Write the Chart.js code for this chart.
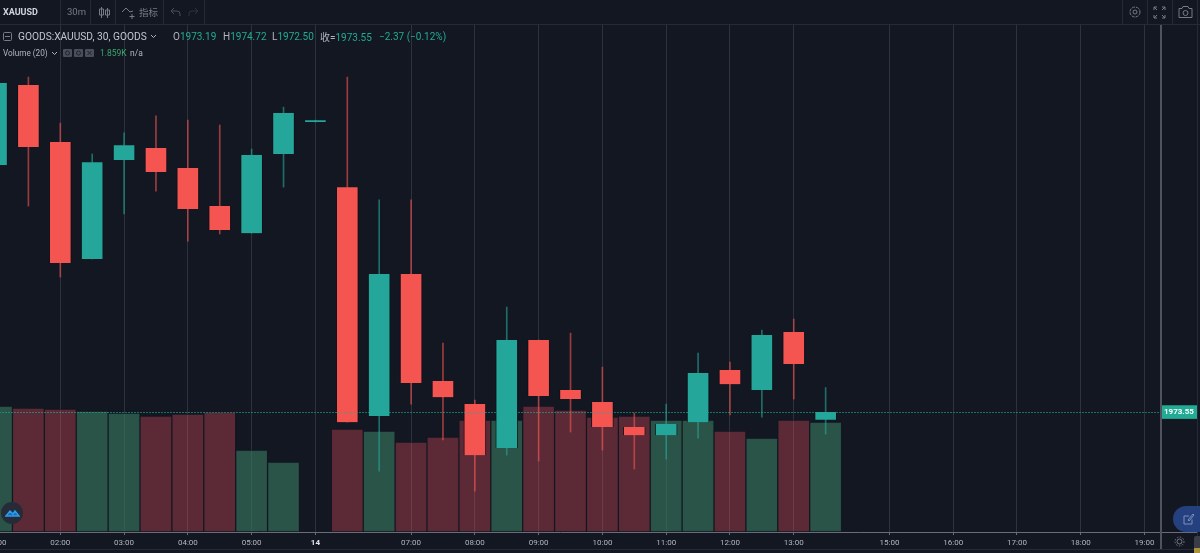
<!DOCTYPE html>
<html>
<head>
<meta charset="utf-8">
<title>XAUUSD</title>
<script src="https://cdn.jsdelivr.net/npm/chart.js@4"></script>
<style>
	html, body { margin: 0; padding: 0; width: 1200px; height: 553px; overflow: hidden; background: #131722; }
	body { position: relative; font-family: Roboto, sans-serif; color: #b2b5be; }
	#chart { position: absolute; left: -40px; top: 0; }
	.t { position: absolute; white-space: nowrap; font-size: 9.5px; line-height: 12px; }
	.up { color: #22ab94; }
	.line { position: absolute; background: #262a36; }
	svg { position: absolute; fill: none; stroke: #787b86; stroke-width: 1; }
</style>
</head>
<body>
<canvas id="chart" width="1240" height="553"></canvas>

<!-- верхняя панель -->
<div class="line" style="left:0;top:24px;width:1200px;height:1px"></div>
<div class="line" style="left:60px;top:0;width:1px;height:24px"></div>
<div class="line" style="left:90px;top:0;width:1px;height:24px"></div>
<div class="line" style="left:115px;top:0;width:1px;height:24px"></div>
<div class="line" style="left:163px;top:0;width:1px;height:24px"></div>
<div class="line" style="left:204px;top:0;width:1px;height:24px"></div>
<div class="line" style="left:1122px;top:0;width:1px;height:24px"></div>
<div class="line" style="left:1147px;top:0;width:1px;height:24px"></div>
<div class="line" style="left:1172px;top:0;width:1px;height:24px"></div>
<div class="line" style="left:1197px;top:0;width:1px;height:553px"></div>
<div class="line" style="left:0;top:549px;width:1197px;height:1px"></div>
<div class="line" style="left:1160px;top:532px;width:37px;height:1px;background:#6a6d78"></div>
<div class="line" style="left:1160px;top:25px;width:2px;height:524px;background:#50535e"></div>

<div class="t" style="left:3px;top:6px;font-weight:700;font-size:9px;color:#d1d4dc">XAUUSD</div>
<div class="t" style="left:67px;top:6px;color:#787b86">30m</div>
<svg style="left:98px;top:6px" width="13" height="13"><path d="M3.5 1v11M3.5 3h-2v6h2M3.5 3h2v6h-2M9.5 2v10M9.5 4h-2v5h2M9.5 4h2v5h-2"/></svg>
<svg style="left:121px;top:6px" width="16" height="13"><path d="M1 6l4-4 4 4 3-1M11 8v5M8.5 10.500h5"/></svg>
<div class="t" style="left:139px;top:6px;color:#787b86;font-family:'Noto Sans CJK SC'">指标</div>
<svg style="left:170px;top:7px;stroke:#4a4e5a" width="11" height="10"><path d="M4 1L1 4l3 3M1 4h6q3 0 3 3v2"/></svg>
<svg style="left:188px;top:7px;stroke:#2f333f" width="11" height="10"><path d="M7 1l3 3-3 3M10 4H4q-3 0-3 3v2"/></svg>
<svg style="left:1128px;top:5px" width="14" height="14"><circle cx="7" cy="7" r="2"/><circle cx="7" cy="7" r="5" stroke-dasharray="3 1"/></svg>
<svg style="left:1153px;top:6px" width="13" height="13"><path d="M1 4V1h3M9 1h3v3M1 9v3h3M12 9v3H9M1 1l3 3M12 1L9 4M1 12l3-3M12 12L9 9"/></svg>
<svg style="left:1178px;top:5px" width="15" height="14"><path d="M1 3.500h3l1-2h5l1 2h3v9H1z"/><circle cx="7.500" cy="8" r="2.500"/></svg>

<!-- легенда -->
<svg style="left:3px;top:32px" width="10" height="10"><rect x=".5" y=".5" width="8" height="8" rx="1"/><path d="M2 4.500h5"/></svg>
<div class="t" style="left:18px;top:31px;color:#c3c6ce;font-size:10.200px">GOODS:XAUUSD, 30, GOODS</div>
<svg style="left:150px;top:34px;stroke:#b2b5be" width="7" height="5"><path d="M1 1l2.500 2.500L6 1"/></svg>
<div class="t" style="left:173px;top:31px;font-size:10px">O<span class="up">1973.19</span></div>
<div class="t" style="left:223px;top:31px;font-size:10px">H<span class="up">1974.72</span></div>
<div class="t" style="left:272px;top:31px;font-size:10px">L<span class="up">1972.50</span></div>
<div class="t" style="left:320px;top:31px;font-size:10px"><span style="font-family:'Noto Sans CJK SC'">收</span>=<span class="up">1973.55</span></div>
<div class="t up" style="left:379px;top:31px;font-size:10px">−2.37 (−0.12%)</div>
<div class="t" style="left:3px;top:47px;font-size:8.200px">Volume (20)</div>
<svg style="left:51px;top:51px;stroke:#b2b5be" width="7" height="5"><path d="M1 1l2.500 2.500L6 1"/></svg>
<svg style="left:63px;top:49px;stroke:#1f2330;fill:none" width="32" height="9"><rect width="9" height="8" rx="1" style="fill:#4a4e5a;stroke:none"/><rect x="11" width="9" height="8" rx="1" style="fill:#4a4e5a;stroke:none"/><rect x="22" width="9" height="8" rx="1" style="fill:#4a4e5a;stroke:none"/><circle cx="4.500" cy="4" r="2"/><circle cx="15.500" cy="4" r="2"/><path d="M24.500 2l4 4M28.500 2l-4 4"/></svg>
<div class="t" style="left:100px;top:47px;font-size:8.500px;color:#3aa76d">1.859K</div>
<div class="t" style="left:130px;top:47px;font-size:8.500px">n/a</div>

<!-- кнопки внизу -->
<div style="position:absolute;left:1px;top:502px;width:22px;height:22px;border-radius:11px;background:#262b38"></div>
<svg style="left:5px;top:508px;stroke:#2e9bf0;stroke-width:1.500;fill:#1b6fb5" width="15" height="11"><path d="M1 8l4-5 3 3 2-3 4 5z"/></svg>
<div style="position:absolute;left:1173px;top:506px;width:40px;height:26px;border-radius:13px;background:#24407f"></div>
<svg style="left:1183px;top:513px;stroke:#7c8fb8" width="12" height="12"><path d="M9 6.500V11H1V3h5M5 7l5-6 1 1-5 6z"/></svg>
<svg style="left:1173px;top:535px" width="13" height="13"><circle cx="6.500" cy="6.500" r="2.500"/><circle cx="6.500" cy="6.500" r="4.500" stroke-dasharray="1.500 1.500"/></svg>
<div style="position:absolute;left:1194px;top:536px;width:6px;height:17px;border-radius:2px 0 0 0;background:linear-gradient(#3a3d46 72%,#a8923c 72%)"></div>

<script>
// Слоты времени, по одному на каждые 30 минут
const slots = [0, 1, 2, 3, 4, 5, 6, 7, 8, 9, 10, 11, 12, 13, 14, 15, 16, 17, 18, 19, 20, 21, 22, 23, 24, 25, 26];
const opens = [1985.31, 1989.12, 1986.41, 1980.84, 1985.55, 1986.12, 1985.17, 1983.36, 1982.07, 1985.84, 1987.36, 1984.26, 1973.36, 1980.12, 1975.03, 1973.93, 1971.84, 1976.98, 1974.60, 1974.03, 1972.84, 1972.45, 1973.07, 1975.55, 1974.60, 1977.36, 1973.19];
const highs = [1989.22, 1989.50, 1987.31, 1985.84, 1986.84, 1987.65, 1987.45, 1987.22, 1986.07, 1988.07, 1987.45, 1989.50, 1983.65, 1983.65, 1976.84, 1974.12, 1978.55, 1976.98, 1977.31, 1975.69, 1973.50, 1973.93, 1976.36, 1975.93, 1977.45, 1977.98, 1974.72];
const lows = [1985.31, 1983.36, 1979.98, 1980.84, 1982.98, 1984.07, 1981.69, 1982.03, 1982.07, 1984.26, 1987.36, 1973.07, 1970.74, 1973.93, 1972.22, 1969.79, 1971.50, 1971.22, 1972.60, 1971.74, 1970.84, 1971.31, 1972.31, 1973.41, 1973.31, 1974.17, 1972.50];
const closes = [1989.22, 1986.17, 1980.65, 1985.45, 1986.26, 1984.98, 1983.22, 1982.22, 1985.79, 1987.79, 1987.45, 1973.07, 1980.12, 1974.93, 1974.26, 1971.50, 1976.98, 1974.31, 1974.17, 1972.84, 1972.45, 1972.98, 1975.41, 1974.88, 1977.22, 1975.84, 1973.55];
const volumes = [2129, 2096, 2079, 2045, 2011, 1960, 1994, 2028, 1386, 1183, 0, 1741, 1707, 1521, 1606, 1893, 1893, 2129, 2062, 1944, 1961, 1893, 1893, 1707, 1589, 1893, 1859];

const tickSlots = [0, 2, 4, 6, 8, 10, 13, 15, 17, 19, 21, 23, 25, 28, 30, 32, 34, 36];
const tickLabels = ['01:00', '02:00', '03:00', '04:00', '05:00', '14', '07:00', '08:00', '09:00', '10:00', '11:00', '12:00', '13:00', '15:00', '16:00', '17:00', '18:00', '19:00'];
const lastPrice = 1973.55;

const RED = 'rgb(245,85,80)';
const TEAL = 'rgb(36,166,154)';
const isUp = slots.map((s, i) => closes[i] >= opens[i]);

new Chart(document.getElementById('chart'), {
	type: 'bar',
	data: {
		datasets: [
			{
				order: 1,
				grouped: false,
				barThickness: 22,
				borderWidth: { left: 1, right: 1, top: 0, bottom: 0 },
				borderSkipped: false,
				borderColor: 'rgba(12,15,24,0.8)',
				yAxisID: 'y',
				data: slots.map((s, i) => ({ x: s, y: [opens[i], closes[i]] })),
				backgroundColor: isUp.map(up => up ? TEAL : RED)
			},
			{
				order: 2,
				grouped: false,
				barThickness: 1,
				yAxisID: 'y',
				data: slots.map((s, i) => ({ x: s, y: [lows[i], highs[i]] })),
				backgroundColor: isUp.map(up => up ? 'rgba(36,166,154,0.6)' : 'rgba(245,85,80,0.6)')
			},
			{
				order: 3,
				grouped: false,
				barThickness: 32,
				borderWidth: 1,
				borderSkipped: false,
				borderColor: 'rgba(19,23,34,0.6)',
				yAxisID: 'vol',
				data: slots.map((s, i) => ({ x: s, y: volumes[i] })),
				backgroundColor: isUp.map(up => up ? 'rgba(59,125,99,0.6)' : 'rgba(245,85,95,0.32)')
			}
		]
	},
	options: {
		responsive: false,
		animation: false,
		events: [],
		layout: { padding: { top: 25 } },
		plugins: { legend: { display: false }, tooltip: { enabled: false } },
		scales: {
			x: {
				type: 'linear',
				offset: false,
				min: -1.145,
				max: 36.485,
				afterBuildTicks: scale => { scale.ticks = tickSlots.map(v => ({ value: v })); },
				afterFit: scale => { scale.height = 21; },
				grid: { offset: false, color: '#2e323d', tickLength: 3, tickColor: '#6a6d78' },
				border: { color: '#6a6d78', width: 1 },
				ticks: {
					autoSkip: false,
					maxRotation: 0,
					padding: 3,
					color: ctx => tickLabels[ctx.index] === '14' ? '#e0e3eb' : '#b2b5be',
					font: ctx => ({ family: 'Roboto', size: 8, weight: tickLabels[ctx.index] === '14' ? 'bold' : 'normal' }),
					callback: v => tickLabels[tickSlots.indexOf(v)]
				}
			},
			y: {
				position: 'right',
				min: 1967.84,
				max: 1991.98,
				afterBuildTicks: scale => { scale.ticks = [{ value: lastPrice }]; },
				afterFit: scale => { scale.width = 40; },
				grid: { color: 'rgba(34,171,148,0.6)', tickLength: 0, z: 1 },
				border: { display: false, dash: [2, 1] },
				ticks: {
					padding: 4,
					color: '#ffffff',
					font: { family: 'Roboto', size: 8, weight: 'bold' },
					showLabelBackdrop: true,
					backdropColor: '#22ab94',
					backdropPadding: { left: 4, right: 4, top: 2, bottom: 2 },
					callback: v => v.toFixed(2)
				}
			},
			vol: {
				display: false,
				min: 0,
				max: 8570
			}
		}
	}
});
</script>
</body>
</html>
